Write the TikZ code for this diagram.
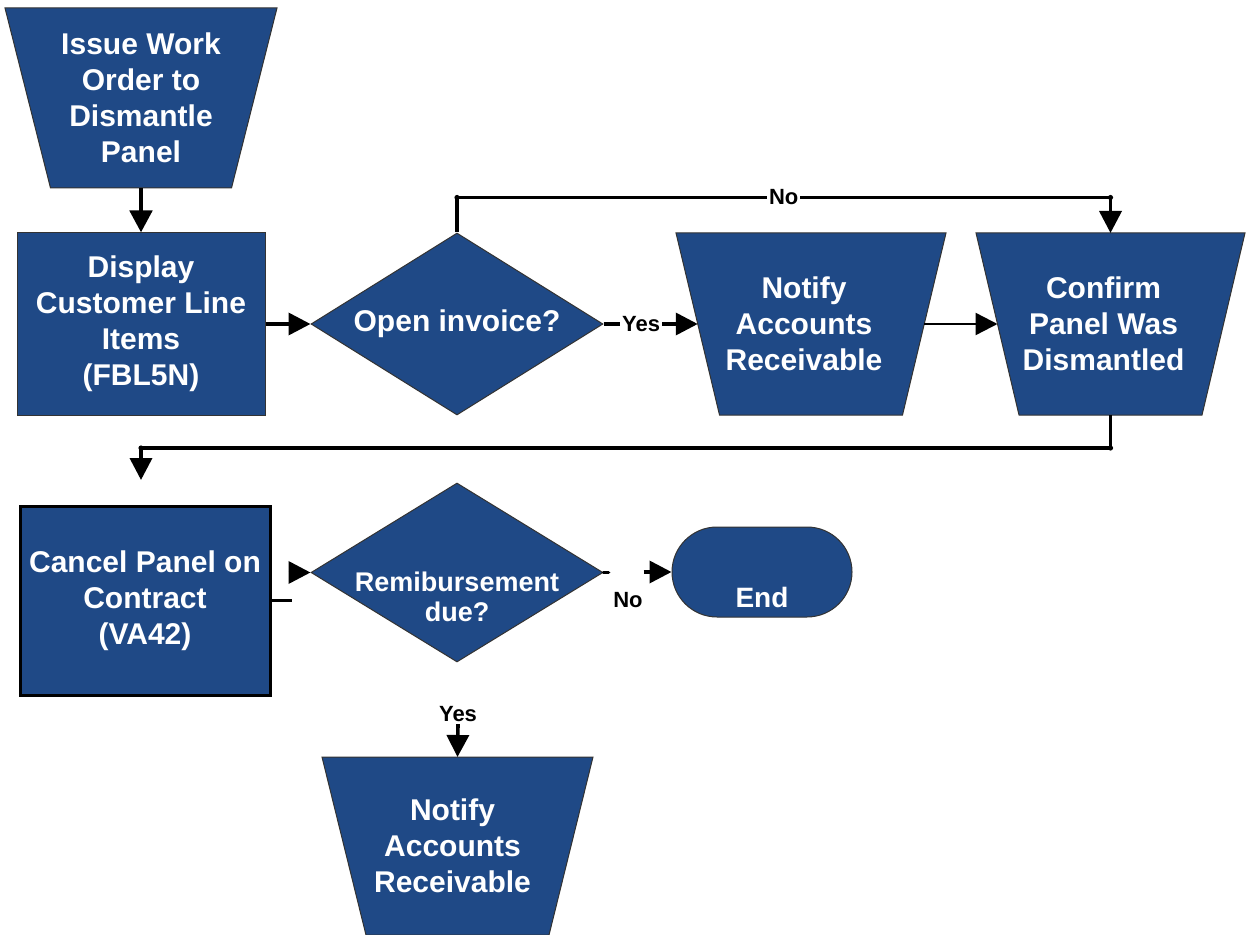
\documentclass[tikz,border=0pt]{standalone}
\usepackage{fontspec}
\setmainfont{Liberation Sans}
\usetikzlibrary{shapes.geometric,arrows.meta,calc}
\definecolor{boxblue}{RGB}{31,73,134}
% #1 name, #2 cx, #3 cy, #4 top width, #5 bottom width, #6 height, #7 text x-offset, #8 text
\newcommand\trapbox[8]{%
  \filldraw[trapshape] ({#2-#4/2},{#3-#6/2}) -- ({#2+#4/2},{#3-#6/2})
     -- ({#2+#5/2},{#3+#6/2}) -- ({#2-#5/2},{#3+#6/2}) -- cycle;
  \node[traptext, minimum width={#4*0.5pt}, minimum height={#6*0.5pt}] (#1) at (#2,#3) {};
  \node[traptext] (#1-t) at ({#2+#7},#3) {#8};
  \coordinate (#1-l) at ({#2-(#4+#5)/4},#3);
  \coordinate (#1-r) at ({#2+(#4+#5)/4},#3);
}
\begin{document}
\begin{tikzpicture}[x=0.5pt,y=-0.5pt,
  base/.style={fill=boxblue, draw=black!80, line width=0.5pt, text=white,
    font=\fontsize{15}{18}\selectfont\bfseries, align=center, inner sep=1pt},
  trapshape/.style={fill=boxblue, draw=black!80, line width=0.5pt},
  traptext/.style={text=white, font=\fontsize{15}{18}\selectfont\bfseries, align=center, inner sep=0pt, outer sep=0pt},
  proc/.style={base, rectangle},
  dec/.style={base, diamond, aspect=1.6},
  conn/.style={line width=1.8pt, line join=round, -{Triangle[length=11pt,width=11pt]}},
  lbl/.style={font=\fontsize{11}{13}\selectfont\bfseries, inner sep=1pt, fill=white},
  joint/.style={fill=black}
]
\useasboundingbox (0,0) rectangle (1246,935);

\trapbox{issue}{141}{98}{272}{181}{180}{0}{Issue Work\\Order to\\Dismantle\\Panel}
\node[proc, minimum width=124pt, minimum height=91pt] (disp) at (141,324) {Display\\Customer Line\\Items\\(FBL5N)};
\node[dec, minimum width=146pt, minimum height=91pt] (d1) at (457,324) {Open invoice?};
\trapbox{n1}{811}{324}{270}{183}{182}{-7}{Notify\\Accounts\\Receivable}
\trapbox{conf}{1110.5}{324}{269}{183}{182}{-7}{Confirm\\Panel Was\\Dismantled}
\node[proc, draw=black, line width=1.5pt, minimum width=125pt, minimum height=94.5pt] (cancel) at (145,600.5) {Cancel Panel on\\Contract\\(VA42)};
\node[dec, minimum width=146pt, minimum height=89.5pt] (d2) at (457,572.5) {};
\node[font=\fontsize{13.5}{15}\selectfont\bfseries, text=white, align=center] (t2) at (457,597) {Remibursement\\due?};
\node[base, rectangle, rounded corners=22.5pt, minimum width=90pt, minimum height=45pt] (endn) at (762,572) {};
\node[font=\fontsize{14}{16}\selectfont\bfseries, text=white] (t3) at (762,597) {End};
\trapbox{n2}{457.5}{846}{271}{183}{178}{-5}{Notify\\Accounts\\Receivable}

\coordinate (c1) at (141,480);
\coordinate (a2) at ($(d2.west)+(-22,0)$);
\coordinate (a3) at ($(endn.west)+(-28,0)$);

\draw[conn, line width=2.4pt] (issue.south) -- (disp.north);
\draw[conn] (disp.east) -- (d1.west);
\draw[conn] (d1.east) -- node[lbl, pos=0.4] (lyes1) {Yes} (n1-l);
\draw[conn, line width=1.2pt] (n1-r) -- (conf-l);
\draw[conn] (d1.north) -- ++(0,-35) coordinate (k1) -| node[lbl, pos=0.25] (lno1) {No} (conf.north);
\draw[conn] (conf.south) -- ++(0,33) coordinate (k3) -| (c1);
\fill[joint] (k1) circle (2.6) (k1 -| conf.north) circle (2.6) (k3) circle (2.6) (k3 -| c1) circle (2.6);
\draw[line width=1.5pt] (cancel.east) -- ++(20,0);
\draw[conn] (a2) -- (d2.west);
\draw[line width=1.8pt, line cap=round] (d2.east) -- ++(5,0);
\draw[conn] (a3) -- (endn.west);
\node[lbl] (lno2) at (628,600) {No};
\node[lbl] (lyes2) at (458,714) {Yes};
\draw[conn] (lyes2.south) -- (n2.north);
\end{tikzpicture}
\end{document}
